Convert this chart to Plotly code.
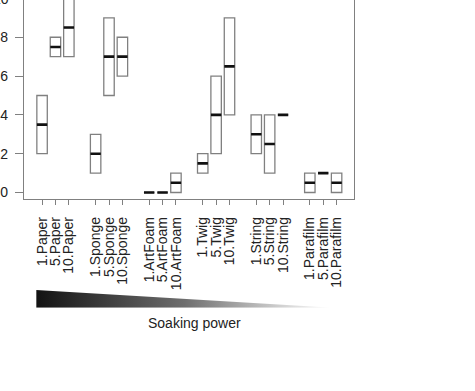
import plotly.graph_objects as go

# ---- data ----
materials = ["Paper", "Sponge", "ArtFoam", "Twig", "String", "Parafilm"]
doses = ["1", "5", "10"]
labels = [f"{d}.{m}" for m in materials for d in doses]

q1 = [2, 7, 7,   1, 5, 6,   0, 0, 0,   1, 2, 4,   2, 1, 4,   0, 1, 0]
median = [3.5, 7.5, 8.5,   2, 7, 7,   0, 0, 0.5,   1.5, 4, 6.5,   3, 2.5, 4,   0.5, 1, 0.5]
q3 = [5, 8, 10,   3, 9, 8,   0, 0, 1,   2, 6, 9,   4, 4, 4,   1, 1, 1]

y_ticks = [0, 2, 4, 6, 8, 10]

# gradient wedge ("soaking power": strong -> weak)
wedge_x = [0, 0, 1, 0]
wedge_y = [0, 1, 0, 0]

# ---- layout helpers ----
positions = [4 * g + i + 1 for g in range(len(materials)) for i in range(len(doses))]

W, H = 475, 391
L, R, T, B = 21, 475 - 354.3, 0, 51
paper_h = H - T - B
plot_h = 199.3
font_family = "Liberation Sans, Arial, Helvetica, sans-serif"
txt = "#222222"
gray = "#808080"

fig = go.Figure()

fig.add_trace(go.Box(
    x=positions, q1=q1, median=median, q3=q3,
    lowerfence=q1, upperfence=q3,
    width=0.78, boxpoints=False,
    fillcolor="white", line=dict(color=gray, width=1.3),
    whiskerwidth=0, showlegend=False, hoverinfo="skip",
    xaxis="x", yaxis="y",
))

fig.add_trace(go.Scatter(
    x=positions, y=median, mode="markers",
    marker=dict(symbol="line-ew", size=7.4, line=dict(color="#111111", width=2.6)),
    showlegend=False, hoverinfo="skip", xaxis="x", yaxis="y",
))

fig.add_trace(go.Scatter(
    x=wedge_x, y=wedge_y, mode="lines", fill="toself",
    line=dict(width=0, color="rgba(0,0,0,0)"),
    fillgradient=dict(type="horizontal",
                      colorscale=[[0, "#121212"], [0.5, "#6e6e6e"], [0.85, "#d8d8d8"], [1, "#ffffff"]]),
    showlegend=False, hoverinfo="skip", xaxis="x2", yaxis="y2",
))

plot_w = W - L - R
x0_px, x1_px = 33.3, 333.0
y_top_px, y_bot_px = 290.0, 307.7

fig.update_layout(
    width=W, height=H,
    margin=dict(l=L, r=R, t=T, b=B),
    paper_bgcolor="white", plot_bgcolor="white",
    font=dict(family=font_family, color=txt),
    xaxis=dict(
        range=[-0.35, 24.3], tickvals=positions, ticktext=labels,
        tickangle=-90, ticks="outside", ticklen=5, tickcolor=gray, tickwidth=1,
        showline=True, linecolor=gray, linewidth=1.2, mirror=False,
        showgrid=False, zeroline=False, tickfont=dict(size=14, color=txt),
        anchor="y", ticklabelstandoff=6,
    ),
    yaxis=dict(
        domain=[1 - plot_h / paper_h, 1], range=[-0.35, 9.92],
        tickvals=y_ticks, ticks="outside", ticklen=8, tickcolor=gray, tickwidth=1,
        showline=True, linecolor=gray, linewidth=1.2, mirror=True,
        showgrid=False, zeroline=False, tickfont=dict(size=14, color=txt),
        ticklabelstandoff=4, anchor="x",
    ),
    xaxis2=dict(
        domain=[(x0_px - L) / plot_w, (x1_px - L) / plot_w], range=[0, 1],
        visible=False, anchor="y2", fixedrange=True,
    ),
    yaxis2=dict(
        domain=[(paper_h - y_bot_px) / paper_h, (paper_h - y_top_px) / paper_h],
        range=[0, 1], visible=False, anchor="x2", fixedrange=True,
    ),
    annotations=[
        dict(text="Soaking power", xref="paper", yref="paper",
             x=(193 - L) / plot_w, y=(paper_h - 323) / paper_h,
             xanchor="center", yanchor="middle", showarrow=False,
             font=dict(size=14, color=txt, family=font_family)),
        dict(text=str(y_ticks[-1]), xref="paper", yref="paper",
             x=(8 - L) / plot_w, y=1 + 1.5 / paper_h,
             xanchor="right", yanchor="middle", showarrow=False,
             font=dict(size=14, color=txt, family=font_family)),
    ],
)

fig.write_html("out.html")
